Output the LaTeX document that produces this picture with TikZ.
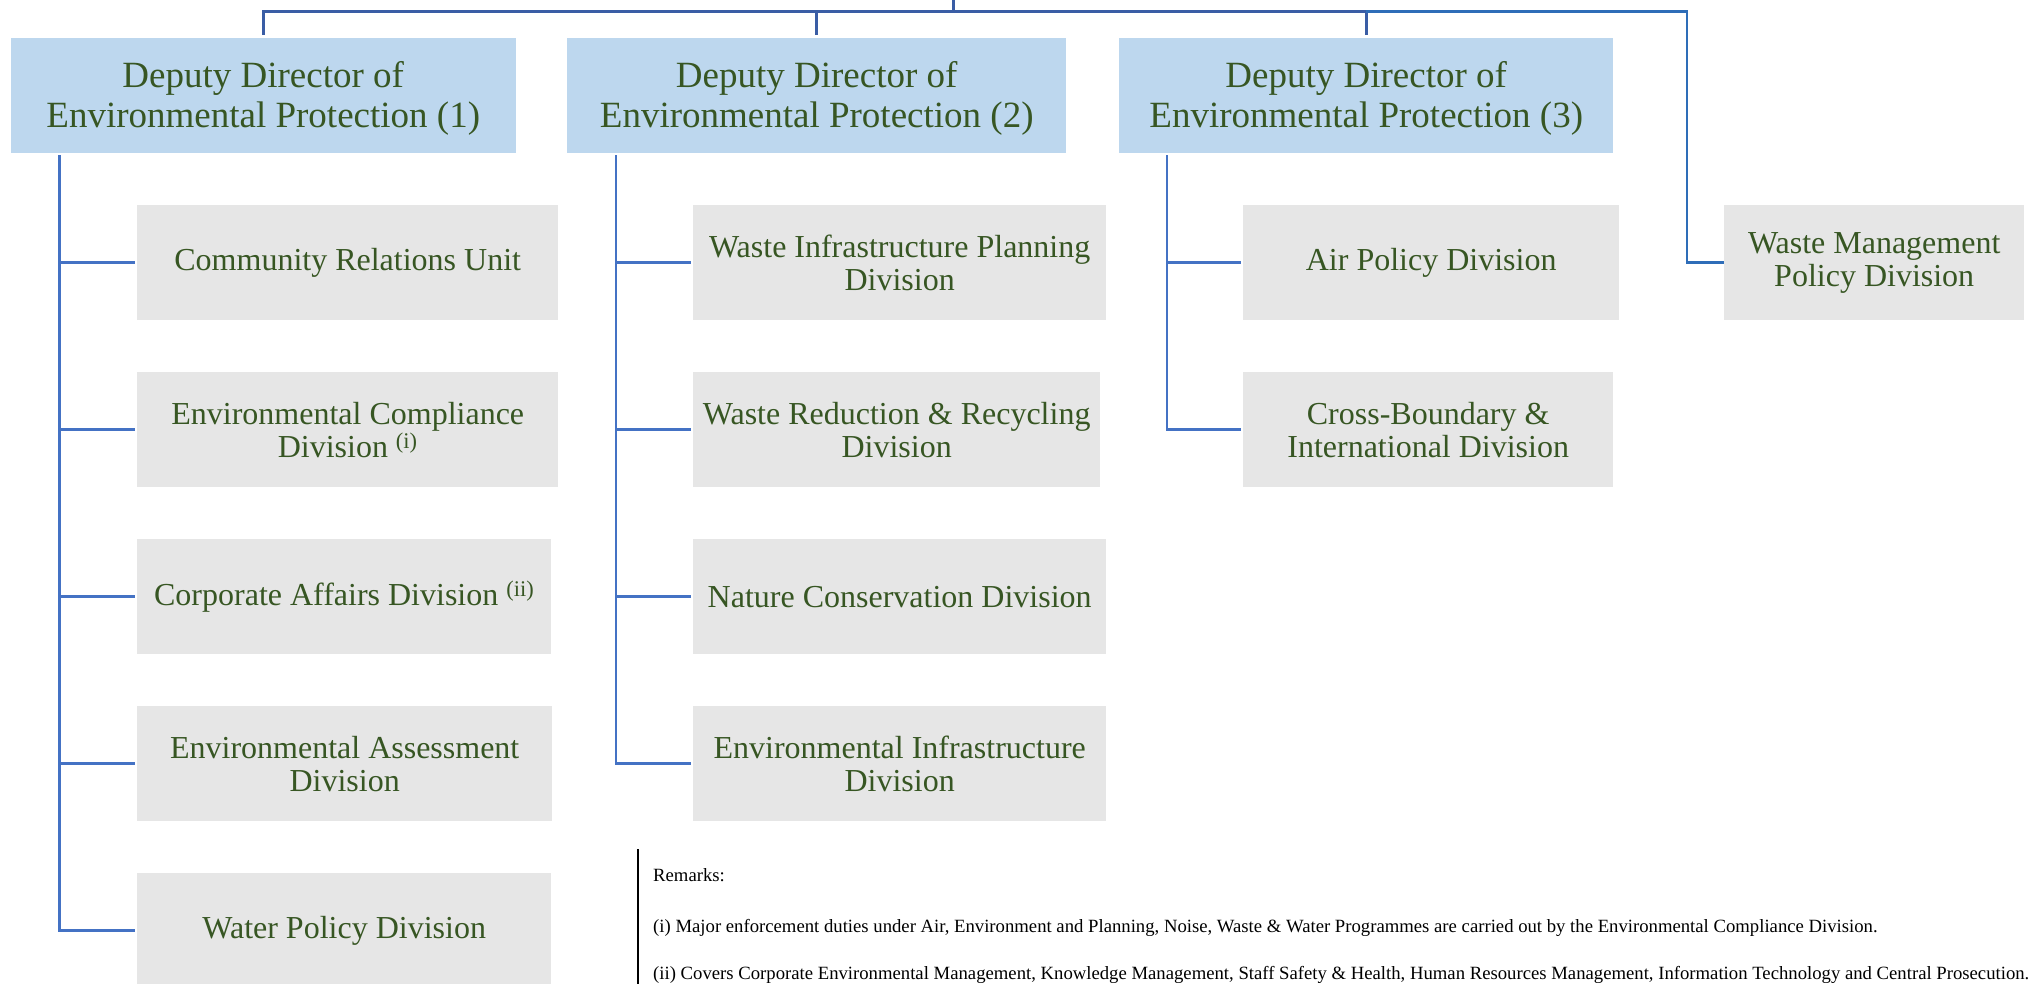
\documentclass[tikz,border=0pt]{standalone}
\usepackage{fontspec}
\setmainfont{Liberation Serif}

\definecolor{ddfill}{HTML}{BDD7EE}
\definecolor{divfill}{HTML}{E6E6E6}
\definecolor{txtgreen}{HTML}{375623}
\definecolor{toplink}{HTML}{3A5DA5}
\definecolor{sidelink}{HTML}{2E6DB8}
\definecolor{link}{HTML}{4472C4}

% invisible strut that lowers the first line of a head box a little
\newcommand{\headstrut}{\rule{0pt}{32pt}}

\tikzset{
  ddbox/.style={fill=ddfill, anchor=north west, minimum width=#1, minimum height=115pt,
    inner sep=0pt, align=center, text=txtgreen, font=\fontsize{37}{40}\selectfont},
  divbox/.style={fill=divfill, anchor=north west, minimum width=#1, minimum height=115pt,
    inner sep=0pt, align=center, text=txtgreen, font=\fontsize{32}{33}\selectfont},
  toplinkline/.style={draw=toplink, line width=3pt},
  wmlinkline/.style={draw=sidelink, line width=2.5pt},
  branch/.style={draw=link, line width=2.5pt},
  note/.style={anchor=base west, inner sep=0pt, text=black, font=\fontsize{18.7}{21}\selectfont}
}

\begin{document}
\begin{tikzpicture}[x=1pt, y=-1pt]
\useasboundingbox (0,0) rectangle (2031,984);

% Deputy directors
\node[ddbox=505pt] (dd1) at (10.5,37.7) {\headstrut Deputy Director of\\Environmental Protection (1)};
\node[ddbox=499pt] (dd2) at (567,37.7) {\headstrut Deputy Director of\\Environmental Protection (2)};
\node[ddbox=494pt] (dd3) at (1119,37.7) {\headstrut Deputy Director of\\Environmental Protection (3)};

% Divisions under DD(1)
\node[divbox=421pt] (c1) at (137,205) {Community Relations Unit};
\node[divbox=421pt] (c2) at (137,372) {Environmental Compliance\\Division \textsuperscript{(i)}};
\node[divbox=414pt] (c3) at (137,539) {Corporate Affairs Division \textsuperscript{(ii)}};
\node[divbox=415pt] (c4) at (137,706) {Environmental Assessment\\Division};
\node[divbox=414pt] (c5) at (137,873) {Water Policy Division};

% Divisions under DD(2)
\node[divbox=413pt] (w1) at (693,205) {Waste Infrastructure Planning\\Division};
\node[divbox=407pt] (w2) at (693,372) {Waste Reduction \& Recycling\\Division};
\node[divbox=413pt] (w3) at (693,539) {Nature Conservation Division};
\node[divbox=413pt] (w4) at (693,706) {Environmental Infrastructure\\Division};

% Divisions under DD(3)
\node[divbox=376pt] (a1) at (1243,205) {Air Policy Division};
\node[divbox=370pt] (a2) at (1243,372) {Cross-Boundary \&\\International Division};

% Division reporting directly
\node[divbox=300pt] (wm) at (1724,205) {Waste Management\\Policy Division};

% Top bus
\coordinate (root) at (953,-5);
\coordinate (bus) at (953,11.7);
\coordinate (wmturn) at (1687,11.7);
\draw[toplinkline] (root) -- (bus);
\draw[toplinkline] ([yshift=3pt]dd1.north) |- (dd3.north |- bus) -- ([yshift=3pt]dd3.north);
\draw[toplinkline] ([yshift=3pt]dd2.north) -- (dd2.north |- bus);
\draw[wmlinkline] (dd3.north |- bus) -- (wmturn) |- (wm.west);

% Branches from DD(1)
\foreach \c in {c1,c2,c3,c4,c5}
  \draw[branch] ([xshift=49pt,yshift=-2pt]dd1.south west) |- ([xshift=-2pt]\c.west);
% Branches from DD(2)
\foreach \c in {w1,w2,w3,w4}
  \draw[branch] ([xshift=49pt,yshift=-2pt]dd2.south west) |- ([xshift=-2pt]\c.west);
% Branches from DD(3)
\foreach \c in {a1,a2}
  \draw[branch] ([xshift=48pt,yshift=-2pt]dd3.south west) |- ([xshift=-2pt]\c.west);

% Remarks
\coordinate (rtop) at (638,849);
\coordinate (rbot) at (638,990);
\draw[black, line width=1.5pt] (rtop) -- (rbot);
\node[note] (r0) at (653,881.7) {Remarks:};
\node[note] (r1) at (653,932) {(i) Major enforcement duties under Air, Environment and Planning, Noise, Waste \& Water Programmes are carried out by the Environmental Compliance Division.};
\node[note] (r2) at (653,979) {(ii) Covers Corporate Environmental Management, Knowledge Management, Staff Safety \& Health, Human Resources Management, Information Technology and Central Prosecution.};
\end{tikzpicture}
\end{document}
